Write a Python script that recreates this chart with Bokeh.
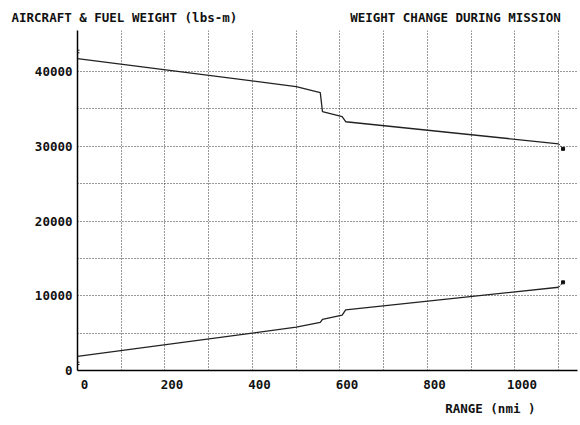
from bokeh.plotting import figure
from bokeh.models import Range1d, FixedTicker, Title, LinearAxis
from bokeh.embed import file_html
from bokeh.resources import INLINE

# ---- data ----
range_nmi = [0, 500, 555, 560, 605, 613, 1100]
aircraft_wt = [41750, 37990, 37180, 34630, 33960, 33290, 30340]
fuel_wt = [1880, 5800, 6450, 6850, 7400, 8100, 11140]
end_range = [1100, 1110]
aircraft_end = [30340, 29660]
fuel_end = [11140, 11800]
start_marks_y = [42860, 42510, 1110, 800]

x_ticks = [0, 200, 400, 600, 800, 1000]
y_ticks = [0, 10000, 20000, 30000, 40000]
x_grid = [100, 200, 300, 400, 500, 600, 700, 800, 900, 1000, 1100]
y_grid = [5000, 10000, 15000, 20000, 25000, 30000, 35000, 40000]

title_left = "AIRCRAFT & FUEL WEIGHT (lbs-m)"
title_right = "WEIGHT CHANGE DURING MISSION"
x_title = "RANGE (nmi )"

FONT = "DejaVu Sans Mono"
FS = "12.5px"
TXT = "#111111"

p = figure(width=578, height=425, output_backend="svg", toolbar_location=None,
           x_range=Range1d(0, 1143), y_range=Range1d(0, 45500),
           min_border_left=77, min_border_right=1, min_border_top=30,
           min_border_bottom=55, title=None)
p.outline_line_color = None
p.background_fill_color = "white"
p.border_fill_color = "white"

# titles (monospace: pad with no-break spaces to place the right-hand title)
top = Title(text=title_left + "\u00a0" * 15 + title_right, align="left",
            offset=-66, standoff=12, text_font=FONT,
            text_font_size=FS, text_font_style="bold", text_color=TXT)
p.add_layout(top, "above")

# grids
p.xgrid.ticker = FixedTicker(ticks=x_grid)
p.ygrid.ticker = FixedTicker(ticks=y_grid)
for g in (p.xgrid, p.ygrid):
    g.grid_line_color = "#333333"
    g.grid_line_dash = "1 2"
    g.grid_line_width = 1

# axes
p.xaxis.ticker = FixedTicker(ticks=[])
p.xaxis.axis_line_color = "black"
p.xaxis.axis_line_width = 1.5
p.xaxis.major_label_standoff = 0
p.yaxis.ticker = FixedTicker(ticks=y_ticks)
p.yaxis.axis_line_color = "black"
p.yaxis.axis_line_width = 1.5

# x tick labels on a slightly shifted scale (labels sit a little right of ticks)
p.extra_x_ranges = {"lab": Range1d(-16, 1127)}
xlab = LinearAxis(x_range_name="lab", ticker=FixedTicker(ticks=x_ticks),
                  axis_line_color=None)
p.add_layout(xlab, "below")

for ax in (p.yaxis[0], xlab):
    ax.major_tick_out = 0
    ax.major_tick_in = 0
    ax.minor_tick_out = 0
    ax.minor_tick_in = 0
    ax.major_label_text_font = FONT
    ax.major_label_text_font_size = FS
    ax.major_label_text_font_style = "bold"
    ax.major_label_text_color = TXT
p.xaxis[0].major_label_text_font_size = "0px"
p.yaxis.major_label_standoff = 5
xlab.major_label_standoff = 9

bottom = Title(text=x_title, align="right", offset=42, standoff=15,
               text_font=FONT, text_font_size=FS,
               text_font_style="bold", text_color=TXT)
p.add_layout(bottom, "below")

# lines
p.line(range_nmi, aircraft_wt, line_color="#222222", line_width=1.3)
p.line(range_nmi, fuel_wt, line_color="#222222", line_width=1.3)
p.line(end_range, aircraft_end, line_color="#222222", line_width=1, line_dash="2 1")
p.line(end_range, fuel_end, line_color="#222222", line_width=1, line_dash="2 1")
p.scatter(end_range[1:], aircraft_end[1:], marker="square", size=3, color="#111111")
p.scatter(end_range[1:], fuel_end[1:], marker="square", size=3, color="#111111")
p.scatter([0] * len(start_marks_y), start_marks_y, marker="dash", size=4,
          line_color="#222222", line_width=1)

open("out.html", "w").write(file_html(p, INLINE))
